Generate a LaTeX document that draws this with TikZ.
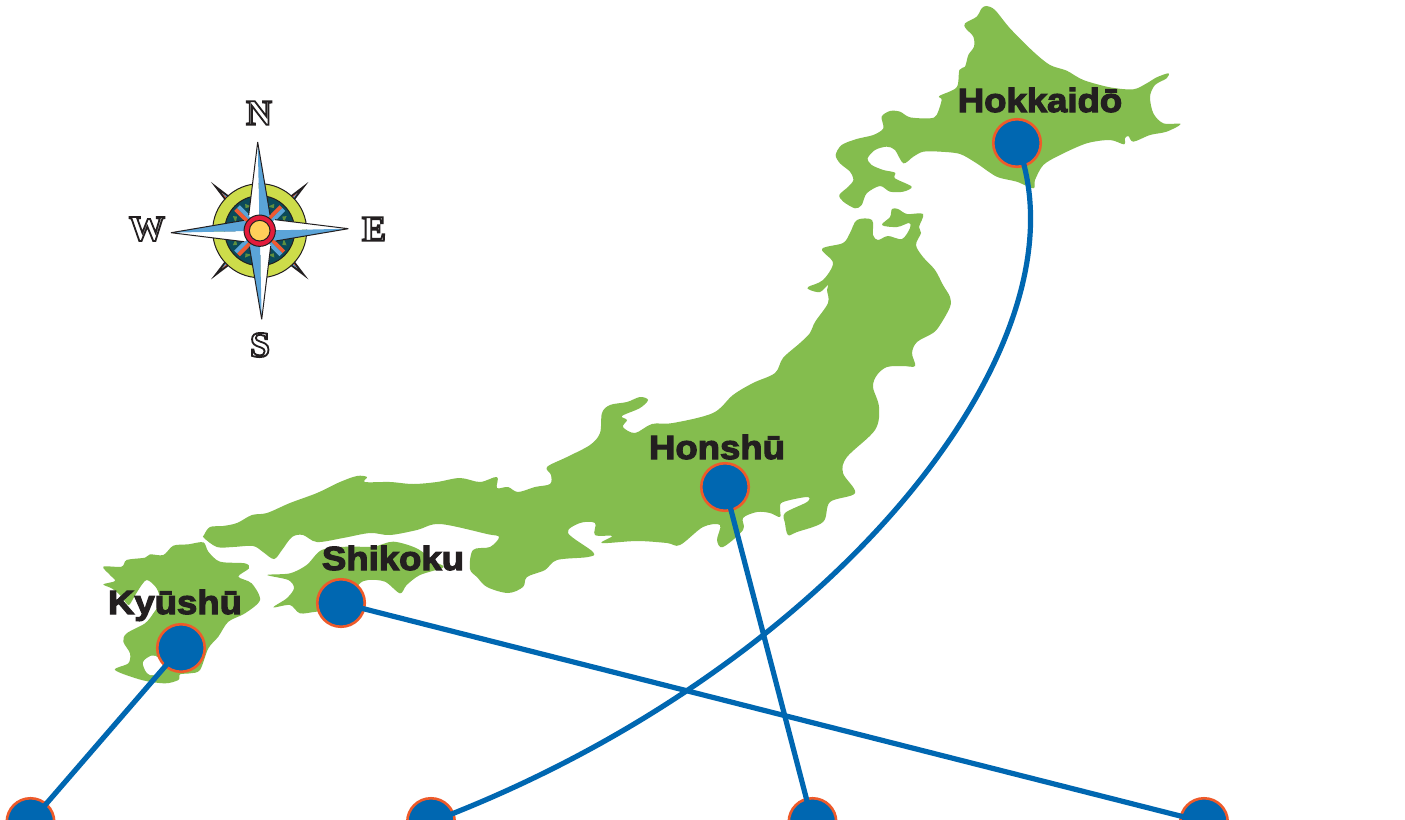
\documentclass[tikz,border=0pt]{standalone}
\usepackage{fontspec}
\setmainfont{Liberation Sans}
\newfontfamily\labfont{Liberation Sans}[UprightFont=* Bold,FakeBold=3.5,FakeStretch=1.09]
\newfontfamily\compfont{Liberation Serif}[UprightFont=* Bold]
\definecolor{land}{HTML}{84BD4E}
\definecolor{pin}{HTML}{0067B1}
\definecolor{pinedge}{HTML}{EE5A2A}
\definecolor{ink}{HTML}{231F20}
\definecolor{cblue}{HTML}{5BA4D8}
\definecolor{clime}{HTML}{CDDC4A}
\definecolor{cteal}{HTML}{0B4A5A}
\definecolor{cred}{HTML}{E31B3C}
\definecolor{corange}{HTML}{EF5A33}
\definecolor{cyellow}{HTML}{FFD05A}
\definecolor{colive}{HTML}{5F8F3F}
\tikzset{
  pinnode/.style={circle,draw=pinedge,fill=pin,line width=2.6pt,minimum size=47.5pt,inner sep=0pt},
  link/.style={draw=pin,line width=5.2pt},
  placelabel/.style={anchor=base,inner sep=0pt,text=ink,font={\labfont\fontsize{33.5}{33.5}\selectfont}},
  dirlabel/.style={inner sep=0pt,text=ink,font={\compfont\fontsize{36}{36}\selectfont}},
  coast/.style={fill=land,draw=none}
}
\newcommand{\outlined}[1]{\special{pdf:code q 1 Tr 1.8 w}#1\special{pdf:code Q}}
\begin{document}
\begin{tikzpicture}[x=1pt,y=-1pt]
\useasboundingbox (0,0) rectangle (1405,819);
\fill[white] (0,0) rectangle (1405,819);
% Hokkaido
\begin{scope}[shift={(800,0)},scale=.33333]
\path[coast] plot[smooth cycle,tension=.5] coordinates {
(560,18)(585,30)(630,85)(700,155)(750,195)(800,212)(850,240)(930,262)(1000,268)(1040,250)(1070,232)(1105,220)(1100,235)(1065,255)(1050,290)(1060,340)(1090,370)(1142,372)(1100,395)(1050,405)(1000,425)(985,408)(975,415)(972,433)(930,420)(860,430)(780,465)(730,495)(705,540)(700,565)(650,545)(590,530)(530,490)(480,462)(420,455)(370,455)(340,470)(310,490)(285,450)(260,440)(225,450)(203,475)(215,495)(250,510)(285,518)(285,535)(335,560)(310,575)(270,575)(240,558)(200,580)(185,615)(165,625)(130,605)(118,585)(145,560)(160,540)(150,515)(120,490)(107,465)(125,435)(170,417)(220,405)(250,385)(245,350)(270,333)(300,335)(330,352)(390,355)(410,345)(425,300)(418,288)(470,262)(478,210)(495,200)(505,165)(522,140)(520,110)(497,85)(495,70)(530,50)(545,25)};
\end{scope}
% Honshu
\path[coast] plot[smooth cycle,tension=.55] coordinates {
(204,535)(210,527)(223,526)(237,523)(252,515)(267,513)(290,503)(317,493)(340,482)(357,476)(367,477)(365,482)(390,482)(413,484)(437,482)(460,478)(480,482)(497,477)(497,488)(508,487)(518,492)(535,487)(550,484)(551,475)(547,467)(567,457)(590,445)(600,433)(602,413)(610,405)(627,402)(640,397)(648,400)(640,408)(622,416)(627,420)(623,427)(635,433)(652,424)(673,423)(713,413)(733,395)(753,383)(775,373)(783,358)(800,343)(810,333)(815,322)(828,303)(827,290)(828,285)(820,292)(810,290)(808,287)(823,280)(833,263)(822,249)(843,243)(850,233)(857,220)(872,220)(873,235)(878,240)(888,236)(902,239)(910,228)(909,223)(897,227)(882,225)(890,217)(892,209)(898,209)(907,214)(923,214)(919,227)(921,233)(916,245)(923,257)(935,270)(943,285)(950,297)(950,307)(940,325)(933,333)(917,342)(912,353)(915,366)(903,366)(887,367)(877,375)(873,387)(879,407)(875,430)(847,457)(843,473)(855,493)(830,502)(823,522)(797,532)(788,535)(785,523)(785,513)(807,502)(807,497)(783,502)(780,508)(780,517)(770,513)(757,512)(743,518)(743,530)(723,547)(717,540)(720,525)(703,527)(680,545)(667,543)(637,541)(602,543)(612,536)(595,535)(595,523)(580,523)(568,533)(593,552)(588,557)(557,560)(545,570)(527,577)(523,587)(508,593)(487,587)(477,577)(470,569)(473,550)(490,547)(499,537)(487,534)(440,524)(417,530)(390,535)(370,533)(343,538)(317,542)(303,535)(292,537)(282,550)(274,559)(263,552)(253,546)(233,547)(217,547)(204,538)};
% Shikoku
\begin{scope}[shift={(260,530)},scale=.33333]
\path[coast] plot[smooth cycle,tension=.5] coordinates {
(22,135)(90,130)(140,105)(185,60)(260,50)(340,50)(400,35)(470,55)(525,95)(550,112)(480,135)(440,165)(420,190)(375,155)(325,150)(295,165)(250,240)(170,245)(120,250)(90,225)(40,232)(80,205)(102,175)(85,150)};
\end{scope}
% Kyushu
\begin{scope}[shift={(95,535)},scale=.33333]
\path[coast] plot[smooth cycle,tension=.5] coordinates {
(25,95)(80,95)(95,75)(150,68)(165,58)(205,60)(235,32)(280,28)(325,22)(340,50)(375,80)(450,85)(462,100)(430,125)(470,145)(495,195)(450,235)(400,260)(370,305)(340,340)(315,405)(285,415)(255,418)(250,435)(210,445)(140,435)(60,405)(100,385)(105,355)(85,320)(95,295)(150,265)(175,235)(195,200)(185,160)(155,135)(130,165)(115,190)(100,210)(75,180)(50,160)(25,148)(60,138)(45,120)};
\fill[white] plot[smooth cycle,tension=.6] coordinates {(145,380)(170,362)(190,368)(205,392)(190,415)(165,420)(150,405)};
\end{scope}
% Compass
\begin{scope}[shift={(259.7,230.7)},scale=.33333]
\foreach \a in {45,135,225,315}{
 \begin{scope}[rotate=\a]
  \fill[ink] (125,-11) -- (207,0) -- (125,11) -- cycle;
  \fill[corange] (125,-7) -- (160,0) -- (125,0) -- cycle;
  \fill[cblue] (125,7) -- (160,0) -- (125,0) -- cycle;
 \end{scope}}
\fill[clime,draw=ink,line width=1pt] (0,0) circle (141);
\fill[cteal,draw=ink,line width=1pt] (0,0) circle (105);
\foreach \a in {45,135,225,315}{
 \begin{scope}[rotate=\a]
  \fill[colive] (68,-34) -- (88,-26) -- (78,-18) -- cycle;
  \fill[colive] (68,34) -- (88,26) -- (78,18) -- cycle;
  \fill[corange] (30,0) -- (96,0) -- (96,-12) -- (30,-12) -- cycle;
  \fill[cblue] (30,0) -- (96,0) -- (96,12) -- (30,12) -- cycle;
 \end{scope}}
\foreach \a in {1.3,91.3,181.3,271.3}{
 \begin{scope}[rotate=\a]
  \fill[white] (0,0) -- (266,0) -- (47,-32) -- cycle;
  \fill[cblue] (0,0) -- (266,0) -- (47,32) -- cycle;
  \draw[ink,line width=1pt,miter limit=4] (47,-32) -- (266,0) -- (47,32);
 \end{scope}}
\fill[cred,draw=ink,line width=1pt] (0,0) circle (47);
\fill[cyellow,draw=ink,line width=1pt] (0,0) circle (31);
\end{scope}
\node[dirlabel] (dn) at (259,113) {\outlined{N}};
\node[dirlabel] (de) at (374,229) {\outlined{E}};
\node[dirlabel] (ds) at (260,345) {\outlined{S}};
\node[dirlabel] (dw) at (147,229) {\outlined{W}};
% Labels
\node[placelabel] (lh) at (1040,112) {Hokkaidō};
\node[placelabel] (ln) at (717,459) {Honshū};
\node[placelabel] (ls) at (393,570) {Shikoku};
\node[placelabel] (lk) at (175,614) {Kyūshū};
% Pins
\node[pinnode] (hok) at (1017,143) {};
\node[pinnode] (hon) at (725,487) {};
\node[pinnode] (shi) at (341,603) {};
\node[pinnode] (kyu) at (181,648) {};
\node[pinnode] (b1) at (30.5,822) {};
\node[pinnode] (b2) at (431,822) {};
\node[pinnode] (b3) at (812.5,822) {};
\node[pinnode] (b4) at (1204,822) {};
% Connectors
\draw[link] (kyu.center) -- (b1.center);
\draw[link] (hon.center) -- (b3.center);
\draw[link] (shi.center) -- (b4.center);
\draw[link] (hok.center) .. controls (1095,345) and (828,672) .. (b2.center);
\end{tikzpicture}
\end{document}
